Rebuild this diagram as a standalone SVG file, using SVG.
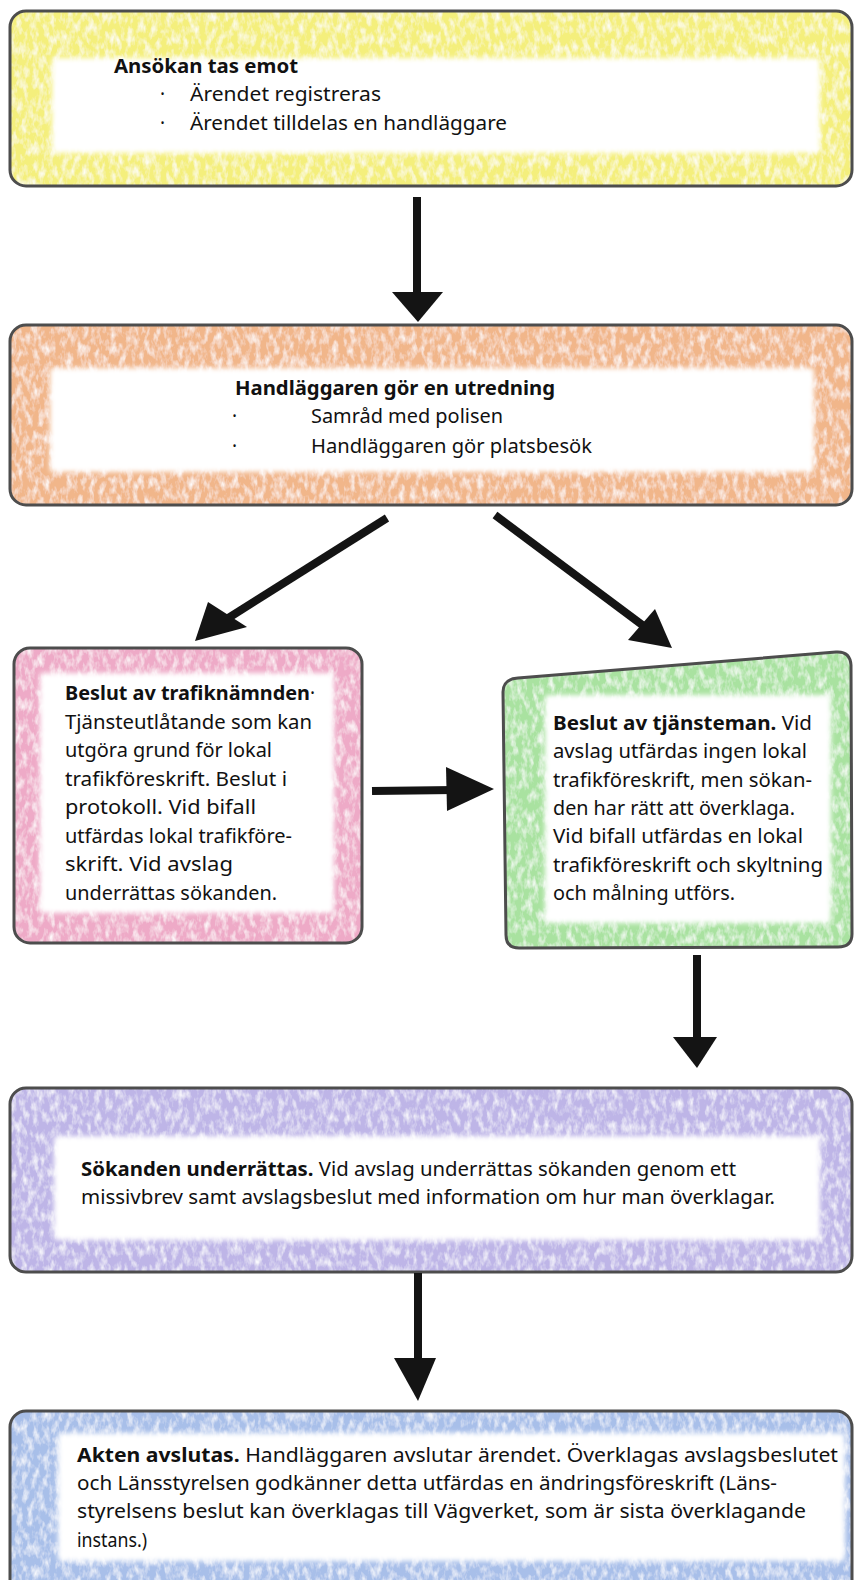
<svg xmlns="http://www.w3.org/2000/svg" width="855" height="1580" viewBox="0 0 855 1580">
<style>
  .t { font-family: "Noto Sans", "Open Sans", sans-serif; font-size: 19px; fill: #111; }
  .b { font-weight: 700; }
  .border { fill: none; stroke: #4d4d4d; stroke-width: 3; }
  .inner { fill: #ffffff; filter: url(#soft); }
  .shaft { stroke: #141414; stroke-width: 8; stroke-linecap: butt; fill: none; }
  .head { fill: #141414; }
</style>
<defs>
  <filter id="crayon" x="-2%" y="-5%" width="104%" height="110%">
    <feTurbulence type="fractalNoise" baseFrequency="0.18 0.09" numOctaves="3" seed="7" result="n"/>
    <feColorMatrix in="n" type="matrix" values="0 0 0 0 1  0 0 0 0 1  0 0 0 0 1  -1.8 0 0 0 1.05" result="w"/>
    <feComposite in="w" in2="SourceGraphic" operator="in" result="ws"/>
    <feMerge><feMergeNode in="SourceGraphic"/><feMergeNode in="ws"/></feMerge>
  </filter>
  <filter id="soft" x="-5%" y="-10%" width="110%" height="120%">
    <feGaussianBlur stdDeviation="2.5"/>
  </filter>
</defs>

<g id="node-ansokan">
  <rect x="10" y="11" width="842" height="175" rx="16" fill="#f4ef7c" filter="url(#crayon)"/>
  <rect x="52" y="58" width="768" height="95" rx="3" class="inner"/>
  <rect x="10" y="11" width="842" height="175" rx="16" class="border"/>
  <text class="t b" x="114" y="73" textLength="184" lengthAdjust="spacingAndGlyphs">Ansökan tas emot</text>
  <text class="t" x="160" y="101">·</text>
  <text class="t" x="190" y="101" textLength="191" lengthAdjust="spacingAndGlyphs">Ärendet  registreras</text>
  <text class="t" x="160" y="130">·</text>
  <text class="t" x="190" y="130" textLength="317" lengthAdjust="spacingAndGlyphs">Ärendet tilldelas en handläggare</text>
</g>

<g id="node-utredning">
  <rect x="10" y="325" width="842" height="180" rx="16" fill="#f1b68a" filter="url(#crayon)"/>
  <rect x="50" y="368" width="764" height="104" rx="3" class="inner"/>
  <rect x="10" y="325" width="842" height="180" rx="16" class="border"/>
  <text class="t b" x="235" y="395" textLength="320" lengthAdjust="spacingAndGlyphs">Handläggaren gör en utredning</text>
  <text class="t" x="232" y="423">·</text>
  <text class="t" x="311" y="423" textLength="192" lengthAdjust="spacingAndGlyphs">Samråd med polisen</text>
  <text class="t" x="232" y="453">·</text>
  <text class="t" x="311" y="453" textLength="281" lengthAdjust="spacingAndGlyphs">Handläggaren gör platsbesök</text>
</g>

<g id="node-trafiknamnden">
  <rect x="14" y="648" width="348" height="295" rx="16" fill="#eeaac7" filter="url(#crayon)"/>
  <rect x="40" y="673" width="294" height="240" rx="3" class="inner"/>
  <rect x="14" y="648" width="348" height="295" rx="16" class="border"/>
  <text class="t b" x="65" y="700" textLength="245" lengthAdjust="spacingAndGlyphs">Beslut av trafiknämnden</text>
  <text class="t" x="310" y="700">·</text>
  <text class="t" x="65" y="729" textLength="247" lengthAdjust="spacingAndGlyphs">Tjänsteutlåtande som kan</text>
  <text class="t" x="65" y="757" textLength="207" lengthAdjust="spacingAndGlyphs">utgöra grund för lokal</text>
  <text class="t" x="65" y="786" textLength="222" lengthAdjust="spacingAndGlyphs">trafikföreskrift. Beslut i</text>
  <text class="t" x="65" y="814" textLength="191" lengthAdjust="spacingAndGlyphs">protokoll.  Vid bifall</text>
  <text class="t" x="65" y="843" textLength="227" lengthAdjust="spacingAndGlyphs">utfärdas lokal trafikföre-</text>
  <text class="t" x="65" y="871" textLength="168" lengthAdjust="spacingAndGlyphs">skrift. Vid avslag</text>
  <text class="t" x="65" y="900" textLength="212" lengthAdjust="spacingAndGlyphs">underrättas sökanden.</text>
</g>

<g id="node-tjansteman">
  <path d="M518,678 L836,652 Q850,651 851,665 L852,934 Q852,947 838,947 L519,948 Q506,948 506,935 L503,692 Q503,679 518,678 Z" fill="#a9e2a0" filter="url(#crayon)"/>
  <rect x="545" y="695" width="286" height="228" rx="3" class="inner"/>
  <path d="M518,678 L836,652 Q850,651 851,665 L852,934 Q852,947 838,947 L519,948 Q506,948 506,935 L503,692 Q503,679 518,678 Z" class="border"/>
  <text class="t" x="553" y="730" textLength="259" lengthAdjust="spacingAndGlyphs"><tspan class="b">Beslut av tjänsteman.</tspan> Vid</text>
  <text class="t" x="553" y="758" textLength="254" lengthAdjust="spacingAndGlyphs">avslag utfärdas ingen lokal</text>
  <text class="t" x="553" y="787" textLength="259" lengthAdjust="spacingAndGlyphs">trafikföreskrift, men sökan-</text>
  <text class="t" x="553" y="815" textLength="242" lengthAdjust="spacingAndGlyphs">den har rätt att överklaga.</text>
  <text class="t" x="553" y="843" textLength="250" lengthAdjust="spacingAndGlyphs">Vid bifall utfärdas en lokal</text>
  <text class="t" x="553" y="872" textLength="270" lengthAdjust="spacingAndGlyphs">trafikföreskrift och skyltning</text>
  <text class="t" x="553" y="900" textLength="182" lengthAdjust="spacingAndGlyphs">och målning utförs.</text>
</g>

<g id="node-underrattas">
  <rect x="10" y="1088" width="842" height="184" rx="16" fill="#beb5e7" filter="url(#crayon)"/>
  <rect x="54" y="1136" width="766" height="104" rx="3" class="inner"/>
  <rect x="10" y="1088" width="842" height="184" rx="16" class="border"/>
  <text class="t" x="81" y="1176" textLength="655" lengthAdjust="spacingAndGlyphs"><tspan class="b">Sökanden underrättas.</tspan> Vid avslag underrättas sökanden genom ett</text>
  <text class="t" x="81" y="1204" textLength="694" lengthAdjust="spacingAndGlyphs">missivbrev samt avslagsbeslut med information om hur man överklagar.</text>
</g>

<g id="node-akten">
  <rect x="10" y="1411" width="842" height="185" rx="16" fill="#a8bfe9" filter="url(#crayon)"/>
  <rect x="58" y="1433" width="787" height="128" rx="3" class="inner"/>
  <rect x="10" y="1411" width="842" height="185" rx="16" class="border"/>
  <text class="t" x="77" y="1462" textLength="761" lengthAdjust="spacingAndGlyphs"><tspan class="b">Akten avslutas.</tspan> Handläggaren avslutar ärendet. Överklagas avslagsbeslutet</text>
  <text class="t" x="77" y="1490" textLength="700" lengthAdjust="spacingAndGlyphs">och Länsstyrelsen godkänner detta utfärdas en ändringsföreskrift (Läns-</text>
  <text class="t" x="77" y="1518" textLength="729" lengthAdjust="spacingAndGlyphs">styrelsens beslut kan överklagas till Vägverket, som är sista överklagande</text>
  <text class="t" x="77" y="1547" textLength="70" lengthAdjust="spacingAndGlyphs">instans.)</text>
</g>

<g id="connectors">
  <line class="shaft" x1="417" y1="197" x2="417" y2="300"/>
  <polygon class="head" points="392,292 443,292 418,322"/>

  <line class="shaft" x1="387" y1="518" x2="222" y2="622"/>
  <polygon class="head" points="195,641 208,602 247,627"/>

  <line class="shaft" x1="495" y1="515" x2="645" y2="627"/>
  <polygon class="head" points="672,648 628,640 655,609"/>

  <line class="shaft" x1="372" y1="791" x2="455" y2="790"/>
  <polygon class="head" points="494,789 446,767 447,811"/>

  <line class="shaft" x1="697" y1="955" x2="697" y2="1045"/>
  <polygon class="head" points="673,1037 717,1037 697,1068"/>

  <line class="shaft" x1="418" y1="1273" x2="418" y2="1365"/>
  <polygon class="head" points="394,1358 436,1358 418,1401"/>
</g>
</svg>
